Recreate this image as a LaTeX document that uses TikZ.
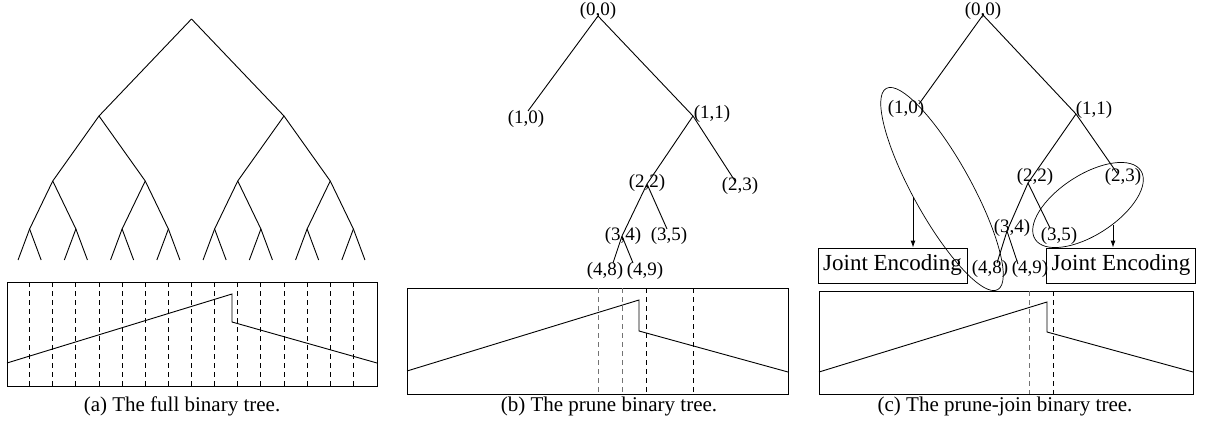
\documentclass[tikz,border=0pt]{standalone}
\usepackage{fontspec}
\setmainfont{Liberation Serif}
\usetikzlibrary{arrows.meta}

\begin{document}
\begin{tikzpicture}[
  x=1pt, y=-1pt,
  line width=0.9pt,
  level 1/.style={level distance=97pt,sibling distance=185pt},
  level 2/.style={level distance=65pt,sibling distance=92.5pt},
  level 3/.style={level distance=48pt,sibling distance=46.3pt},
  level 4/.style={level distance=31pt,sibling distance=23.1pt},
  lbl/.style={inner sep=0pt,font=\fontsize{19}{19}\selectfont},
  capt/.style={inner sep=0pt,font=\fontsize{21}{21}\selectfont},
  jebox/.style={draw,minimum width=149pt,minimum height=35pt,inner sep=0pt,font=\fontsize{23}{23}\selectfont},
  cut/.style={dash pattern=on 5pt off 4pt},
  faint/.style={cut,black!55},
  group/.style={line width=0.7pt}
]
  \useasboundingbox (0,0) rectangle (1207,436);

  \path (191.5,19) node[coordinate] (fa) {}
    child foreach \i in {1,2} {child foreach \j in {1,2} {child foreach \k in {1,2} {child foreach \l in {1,2}}}};
  \draw (7,282) rectangle (377,386);
  \foreach \k in {0,...,14}
    \draw[cut] ({29.6+23.13*\k},282) -- ++(0,104);
  \draw (7,363) -- (232,294) -- (232,322) -- (377,363);
  \node[capt] (capa) at (182,406) {(a) The full binary tree.};

  \coordinate (b00) at (598,16);
  \coordinate (b10) at (528,111);
  \coordinate (b11) at (693,116);
  \coordinate (b22) at (647,184);
  \coordinate (b23) at (735,181);
  \coordinate (b34) at (622,236);
  \coordinate (b35) at (667,229);
  \coordinate (b48) at (613,263);
  \coordinate (b49) at (633,263);
  \draw (b10) -- (b00) -- (b11) -- (b23)
        (b11) -- (b22) -- (b35)
        (b22) -- (b34) -- (b48)
        (b34) -- (b49);
  \node[lbl] (lb00) at (598,11) {(0,0)};
  \node[lbl] (lb10) at (526,119) {(1,0)};
  \node[lbl] (lb11) at (712,114) {(1,1)};
  \node[lbl] (lb22) at (647,183) {(2,2)};
  \node[lbl] (lb23) at (740,186) {(2,3)};
  \node[lbl] (lb34) at (623,236) {(3,4)};
  \node[lbl] (lb35) at (669,236) {(3,5)};
  \node[lbl] (lb48) at (605,271) {(4,8)};
  \node[lbl] (lb49) at (645,271) {(4,9)};
  \draw (407,288) rectangle (788,394);
  \draw[faint] (598,288) -- (598,394);
  \draw[faint] (622,288) -- (622,394);
  \draw[cut] (646,288) -- (646,394);
  \draw[cut] (693,288) -- (693,394);
  \draw (407,371) -- (639,300) -- (639,331) -- (788,372);
  \node[capt] (capb) at (609,406) {(b) The prune binary tree.};

  \coordinate (c00) at (983,15);
  \coordinate (c10) at (919,104);
  \coordinate (c11) at (1076,114);
  \coordinate (c22) at (1028,183);
  \coordinate (c23) at (1117,173);
  \coordinate (c34) at (1007,231);
  \coordinate (c35) at (1050,228);
  \coordinate (c48) at (997,263);
  \coordinate (c49) at (1018,264);
  \draw (c10) -- (c00) -- (c11) -- (c23)
        (c11) -- (c22) -- (c35)
        (c22) -- (c34) -- (c48)
        (c34) -- (c49);
  \node[lbl] (lc00) at (983,11) {(0,0)};
  \node[lbl] (lc10) at (906,109) {(1,0)};
  \node[lbl] (lc11) at (1094,110) {(1,1)};
  \node[lbl] (lc22) at (1035,177) {(2,2)};
  \node[lbl] (lc23) at (1123,177) {(2,3)};
  \node[lbl] (lc34) at (1012,228) {(3,4)};
  \node[lbl] (lc35) at (1059,236) {(3,5)};
  \node[lbl] (lc48) at (990,269) {(4,8)};
  \node[lbl] (lc49) at (1030,269) {(4,9)};
  \coordinate (g1) at (942,189);
  \coordinate (g2) at (1088,205);
  \draw[group,rotate around={-61:(g1)}] (g1) ellipse [x radius=115,y radius=29];
  \draw[group,rotate around={33:(g2)}] (g2) ellipse [x radius=63,y radius=30];
  \node[jebox] (je1) at (892.5,265.5) {Joint Encoding};
  \node[jebox] (je2) at (1121,265.5) {Joint Encoding};
  \coordinate (s1) at (913,197);
  \coordinate (s2) at (1113,225);
  \draw[-{Latex[length=7pt,width=5pt]}] (s1) -- (s1 |- je1.north);
  \draw[-{Latex[length=7pt,width=5pt]}] (s2) -- (s2 |- je2.north);
  \draw (819,291) rectangle (1193,394);
  \draw[faint] (1029,291) -- (1029,394);
  \draw[cut] (1053,291) -- (1053,394);
  \draw (819,372) -- (1047,302) -- (1047,332) -- (1193,372);
  \node[capt] (capc) at (1005,406) {(c) The prune-join binary tree.};
\end{tikzpicture}
\end{document}
